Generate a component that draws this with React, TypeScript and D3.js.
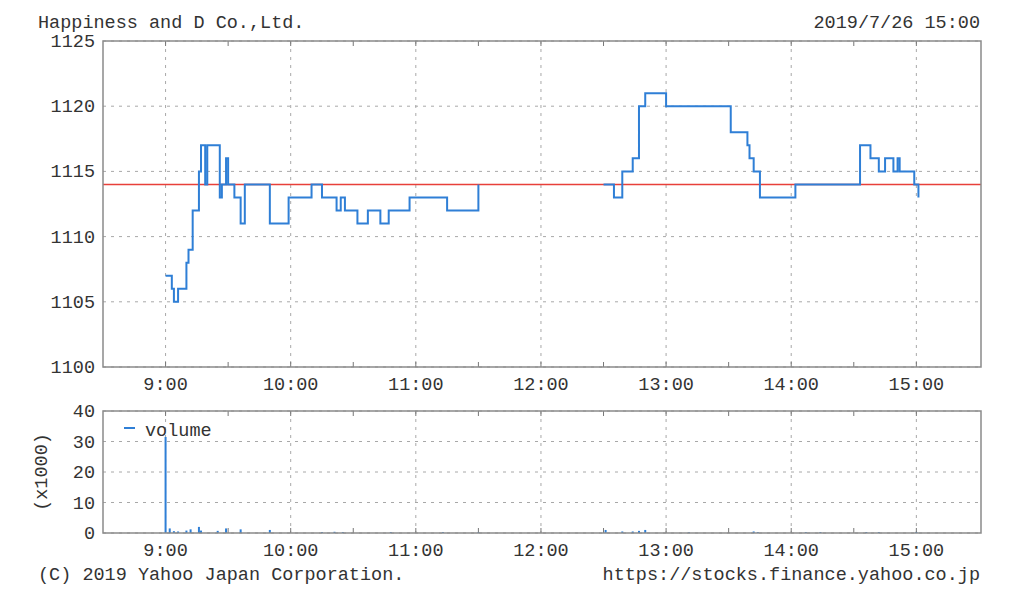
import React from "react";
import * as d3 from "d3";

// ---- data ----
const amTimes = ["9:00","9:03","9:04","9:06","9:10","9:11","9:13","9:16","9:17","9:19","9:20","9:26","9:27","9:29","9:30","9:33","9:36","9:38","9:50","9:59","10:10","10:15","10:22","10:24","10:26","10:32","10:37","10:43","10:47","10:57","11:15","11:30"];
const amPrices = [1107,1106,1105,1106,1108,1109,1112,1115,1117,1114,1117,1113,1114,1116,1114,1113,1111,1114,1111,1113,1114,1113,1112,1113,1112,1111,1112,1111,1112,1113,1112,1114];
const pmTimes = ["12:30","12:35","12:39","12:44","12:47","12:50","13:00","13:31","13:39","13:40","13:42","13:45","14:02","14:33","14:38","14:42","14:45","14:49","14:51","14:52","14:59","15:01"];
const pmPrices = [1114,1113,1115,1116,1120,1121,1120,1118,1117,1116,1115,1113,1114,1117,1116,1115,1116,1115,1116,1115,1114,1113];
const prevClose = 1114;

const volTimes = ["9:00","9:02","9:04","9:06","9:10","9:12","9:16","9:17","9:25","9:29","9:36","9:50","10:15","10:21","10:25","10:48","11:13","11:30","12:31","12:39","12:44","12:47","12:50","13:11","13:42","13:44","14:07","14:14","14:36","14:42","15:00"];
const volValues = [31.5,1.5,0.6,0.5,0.8,1.2,2.0,0.8,0.7,1.5,1.2,1.0,0.3,0.4,0.3,0.3,0.3,0.2,1.0,0.5,0.5,0.7,1.0,0.2,0.5,0.3,0.3,0.3,0.3,0.3,0.3];

const hourLabels = ["9:00","10:00","11:00","12:00","13:00","14:00","15:00"];
const priceTicks = [1100,1105,1110,1115,1120,1125];
const volTicks = [0,10,20,30,40];

const title = "Happiness and D Co.,Ltd.";
const stamp = "2019/7/26 15:00";
const copyright = "(C) 2019 Yahoo Japan Corporation.";
const url = "https://stocks.finance.yahoo.co.jp";

// ---- helpers ----
const toMin = (t: string) => {
  const [h, m] = t.split(":").map(Number);
  return (h - 9) * 60 + m;
};

const W = 1024, H = 598;
const L = 103, R = 981;
const mainTop = 41, mainBot = 367;
const volTop = 411, volBot = 533;

const x = d3.scaleLinear().domain([-30, 391]).range([L, R]);
const y = d3.scaleLinear().domain([1100, 1125]).range([mainBot, mainTop]);
const yv = d3.scaleLinear().domain([0, 40]).range([volBot, volTop]);

const FONT = "'Liberation Mono', 'DejaVu Sans Mono', monospace";
const TXT = "#333";
const GRID = "#a8a8a8";
const BLUE = "#2f7fd6";

const lineGen = d3
  .line<[number, number]>()
  .x((d) => x(d[0]))
  .y((d) => y(d[1]))
  .curve(d3.curveStepAfter);

const amPath = lineGen(amTimes.map((t, i) => [toMin(t), amPrices[i]]))!;
const pmPath = lineGen(pmTimes.map((t, i) => [toMin(t), pmPrices[i]]))!;

const halfHours = d3.range(0, 361, 30);

function Grid({ top, bot, yTicks, ys }: { top: number; bot: number; yTicks: number[]; ys: (v: number) => number }) {
  return (
    <g>
      {hourLabels.map((h) => (
        <line key={"v" + h} x1={x(toMin(h))} x2={x(toMin(h))} y1={top} y2={bot} stroke={GRID} strokeWidth={1} strokeDasharray="3,5" />
      ))}
      {yTicks.map((v) => (
        <line key={"h" + v} x1={L} x2={R} y1={ys(v)} y2={ys(v)} stroke={GRID} strokeWidth={1} strokeDasharray="3,5" />
      ))}
      {halfHours.map((m) => (
        <g key={"t" + m}>
          <line x1={x(m)} x2={x(m)} y1={top} y2={top + 5} stroke="#777" strokeWidth={1} />
          <line x1={x(m)} x2={x(m)} y1={bot} y2={bot - 5} stroke="#777" strokeWidth={1} />
        </g>
      ))}
    </g>
  );
}

export default function App() {
  return (
    <svg width={W} height={H} style={{ position: "absolute", left: 0, top: 0, background: "#fff" }} fontFamily={FONT} fontSize={18.5} fill={TXT}>
      <rect x={0} y={0} width={W} height={H} fill="#fff" />
      <text x={38} y={28}>{title}</text>
      <text x={980} y={28} textAnchor="end">{stamp}</text>

      {/* main chart */}
      <Grid top={mainTop} bot={mainBot} yTicks={priceTicks} ys={y} />
      <line x1={L} x2={R} y1={y(prevClose)} y2={y(prevClose)} stroke="#e8403a" strokeWidth={1.5} />
      <path d={amPath} fill="none" stroke={BLUE} strokeWidth={2} />
      <path d={pmPath} fill="none" stroke={BLUE} strokeWidth={2} />
      <rect x={L} y={mainTop} width={R - L} height={mainBot - mainTop} fill="none" stroke="#8a8a8a" strokeWidth={1.5} />
      {priceTicks.map((v) => (
        <text key={"pl" + v} x={95} y={y(v) + 6} textAnchor="end">{v}</text>
      ))}
      {hourLabels.map((h) => (
        <text key={"xl" + h} x={x(toMin(h))} y={390} textAnchor="middle">{h}</text>
      ))}

      {/* volume chart */}
      <Grid top={volTop} bot={volBot} yTicks={volTicks} ys={yv} />
      {volTimes.map((t, i) => (
        <line key={"vb" + i} x1={x(toMin(t))} x2={x(toMin(t))} y1={yv(0)} y2={yv(volValues[i])} stroke={BLUE} strokeWidth={2} />
      ))}
      <rect x={L} y={volTop} width={R - L} height={volBot - volTop} fill="none" stroke="#8a8a8a" strokeWidth={1.5} />
      {volTicks.map((v) => (
        <text key={"vl" + v} x={95} y={yv(v) + 6} textAnchor="end">{v}</text>
      ))}
      <text transform={`translate(47,${(volTop + volBot) / 2}) rotate(-90)`} textAnchor="middle">(x1000)</text>
      <line x1={124} x2={135} y1={428} y2={428} stroke={BLUE} strokeWidth={2} />
      <text x={145} y={436}>volume</text>
      {hourLabels.map((h) => (
        <text key={"vx" + h} x={x(toMin(h))} y={556} textAnchor="middle">{h}</text>
      ))}

      <text x={38} y={580}>{copyright}</text>
      <text x={980} y={580} textAnchor="end">{url}</text>
    </svg>
  );
}
